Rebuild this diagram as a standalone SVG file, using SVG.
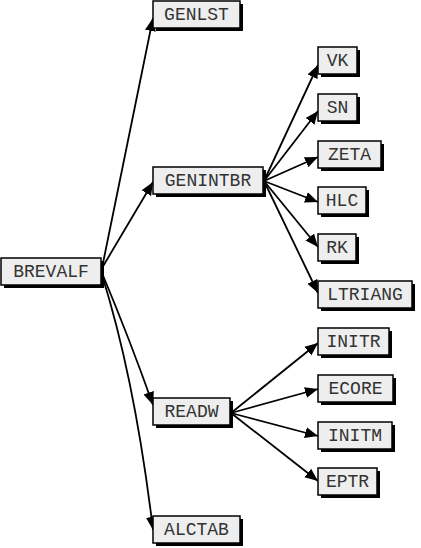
<svg xmlns="http://www.w3.org/2000/svg" width="421" height="548" viewBox="0 0 421 548">
<style>
.box{fill:#eeeeee;stroke:#000;stroke-width:1.5}
.sh{fill:#000}
.t{font-family:"Liberation Mono","Courier New",monospace;font-size:18px;fill:#333;text-anchor:middle}
.e{fill:none;stroke:#000;stroke-width:1.8;marker-end:url(#ah)}
</style>
<defs>
<marker id="ah" markerUnits="userSpaceOnUse" markerWidth="14" markerHeight="12" refX="13" refY="6" orient="auto">
<path d="M0,0.5 L13,6 L0,11.5 z" fill="#000"/>
</marker>
</defs>
<rect width="421" height="548" fill="#fff"/>
<g id="connectors">
<path class="e" d="M102,268 L153,18"/>
<path class="e" d="M102,268 L153,182"/>
<path class="e" d="M102,273 Q130,340 153,405"/>
<path class="e" d="M102,275 Q135,380 153,530"/>
<path class="e" d="M264,181 L318,65"/>
<path class="e" d="M264,181 L318,111"/>
<path class="e" d="M264,181 L318,157"/>
<path class="e" d="M264,181 L318,202"/>
<path class="e" d="M264,181 L318,247"/>
<path class="e" d="M264,181 L318,293"/>
<path class="e" d="M231,413 L318,343"/>
<path class="e" d="M231,413 L318,389"/>
<path class="e" d="M231,413 L318,436"/>
<path class="e" d="M231,413 L318,481"/>
</g>
<g id="BREVALF"><rect class="sh" x="4" y="261" width="100" height="27"/><rect class="box" x="1" y="258" width="100" height="27"/><text class="t" x="51" y="277">BREVALF</text></g>
<g id="GENLST"><rect class="sh" x="156" y="4" width="87" height="27"/><rect class="box" x="153" y="1" width="87" height="27"/><text class="t" x="196.5" y="20">GENLST</text></g>
<g id="GENINTBR"><rect class="sh" x="156" y="170" width="110" height="27"/><rect class="box" x="153" y="167" width="110" height="27"/><text class="t" x="208" y="186">GENINTBR</text></g>
<g id="READW"><rect class="sh" x="156" y="401" width="77" height="27"/><rect class="box" x="153" y="398" width="77" height="27"/><text class="t" x="191.5" y="417">READW</text></g>
<g id="ALCTAB"><rect class="sh" x="156" y="519" width="87" height="27"/><rect class="box" x="153" y="516" width="87" height="27"/><text class="t" x="196.5" y="535">ALCTAB</text></g>
<g id="VK"><rect class="sh" x="321" y="50" width="39" height="27"/><rect class="box" x="318" y="47" width="39" height="27"/><text class="t" x="337.5" y="66">VK</text></g>
<g id="SN"><rect class="sh" x="321" y="97" width="39" height="27"/><rect class="box" x="318" y="94" width="39" height="27"/><text class="t" x="337.5" y="113">SN</text></g>
<g id="ZETA"><rect class="sh" x="321" y="144" width="63" height="27"/><rect class="box" x="318" y="141" width="63" height="27"/><text class="t" x="349.5" y="160">ZETA</text></g>
<g id="HLC"><rect class="sh" x="321" y="190" width="48" height="27"/><rect class="box" x="318" y="187" width="48" height="27"/><text class="t" x="342" y="206">HLC</text></g>
<g id="RK"><rect class="sh" x="321" y="237" width="38" height="27"/><rect class="box" x="318" y="234" width="38" height="27"/><text class="t" x="337" y="253">RK</text></g>
<g id="LTRIANG"><rect class="sh" x="321" y="284" width="94" height="27"/><rect class="box" x="318" y="281" width="94" height="27"/><text class="t" x="365" y="300">LTRIANG</text></g>
<g id="INITR"><rect class="sh" x="321" y="331" width="71" height="27"/><rect class="box" x="318" y="328" width="71" height="27"/><text class="t" x="353.5" y="347">INITR</text></g>
<g id="ECORE"><rect class="sh" x="321" y="378" width="75" height="27"/><rect class="box" x="318" y="375" width="75" height="27"/><text class="t" x="355.5" y="394">ECORE</text></g>
<g id="INITM"><rect class="sh" x="321" y="425" width="74" height="27"/><rect class="box" x="318" y="422" width="74" height="27"/><text class="t" x="355" y="441">INITM</text></g>
<g id="EPTR"><rect class="sh" x="321" y="471" width="59" height="27"/><rect class="box" x="318" y="468" width="59" height="27"/><text class="t" x="347.5" y="487">EPTR</text></g>
</svg>
